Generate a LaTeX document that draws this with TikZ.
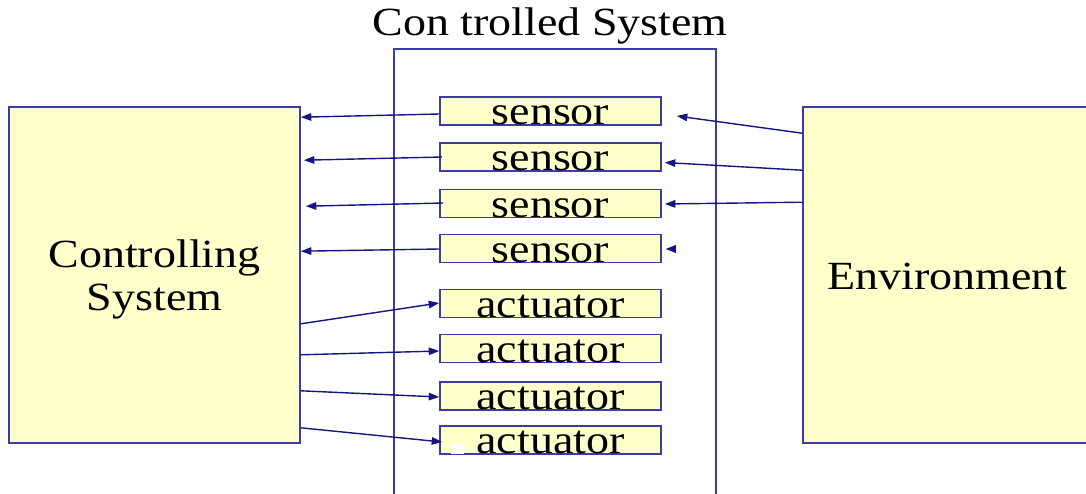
\documentclass[tikz,border=0pt]{standalone}
\usepackage{fontspec}
\setmainfont{Liberation Serif}[FakeStretch=1.15]
\usetikzlibrary{arrows.meta,calc}
\definecolor{boxline}{RGB}{60,60,165}
\definecolor{arrowblue}{RGB}{20,20,135}
\definecolor{boxfill}{RGB}{255,255,204}

\begin{document}
\begin{tikzpicture}[x=1pt,y=-1pt,
  big/.style={font=\fontsize{40}{43}\selectfont},
  panel/.style={draw=boxline, line width=1.6pt, fill=boxfill, inner sep=0pt},
  port/.style={panel, minimum width=221pt, minimum height=28pt},
  caption/.style={big, anchor=base, inner sep=0pt},
  link/.style={draw=arrowblue, line width=1.4pt, -{Triangle[length=10.5pt,width=7.5pt]}}]
\useasboundingbox (0,0) rectangle (1086,493);

% controlled system (open at the bottom edge of the page)
\node[draw=boxline, line width=1.6pt, minimum width=322pt, minimum height=460pt,
      inner sep=0pt, anchor=north] (sys) at (555,48) {};
\node[caption, font=\fontsize{40}{42}\selectfont] (title) at (550,35) {Con trolled System};

% controlling system and environment
\node[panel, minimum width=291pt, minimum height=336pt] (ctl) at (154.5,275) {};
\node[big, align=center, inner sep=0pt] (ctlt) at ($(ctl.center)+(0,4)$) {Controlling\\System};
\node[panel, minimum width=289pt, minimum height=336pt] (env) at (947.5,275) {};
\node[caption] (envt) at ($(env.center)+(0,14)$) {Environment};

% sensors and actuators
\foreach \i/\y in {1/111,2/157,3/203.5,4/248.5} {
  \node[port] (s\i) at (550.5,\y) {};
  \node[caption] (s\i t) at ($(s\i.south)+(0,-1)$) {sensor};
}
\foreach \i/\y in {1/303.5,2/348.5,3/396,4/440} {
  \node[port] (a\i) at (550.5,\y) {};
  \node[caption] (a\i t) at ($(a\i.south)+(0,-1)$) {actuator};
}
\fill[white] ($(a4.south west)+(12,-11)$) rectangle ($(a4.south west)+(25,-1)$);

% sensor readings to the controlling system
\draw[link] ($(s1.west)+(0,3)$)    -- ($(ctl.north east)+(0,11)$);
\draw[link] ($(s2.west)+(3,0)$)    -- ($(ctl.north east)+(3,54)$);
\draw[link] ($(s3.west)+(4,-0.5)$) -- ($(ctl.north east)+(5,100)$);
\draw[link] ($(s4.west)+(0,0.5)$)  -- ($(ctl.north east)+(0,145)$);

% environment to sensors
\draw[link] ($(env.north west)+(0,27)$) -- ($(s1.east)+(15,5)$);
\draw[link] ($(env.north west)+(0,64)$) -- ($(s2.east)+(3,5.5)$);
\draw[link] ($(env.north west)+(0,96)$) -- ($(s3.east)+(3,0.5)$);
\coordinate (e4tip) at ($(s4.east)+(4,0.5)$);
\fill[arrowblue] (e4tip) -- ++(10,-4) -- ++(0,8) -- cycle;

% commands to actuators
\draw[link] ($(ctl.south east)+(0,-120)$) -- ($(a1.west)+(0,-0.5)$);
\draw[link] ($(ctl.south east)+(0,-89)$)  -- ($(a2.west)+(0,2.5)$);
\draw[link] ($(ctl.south east)+(0,-53)$)  -- ($(a3.west)+(0,1)$);
\draw[link] ($(ctl.south east)+(0,-16)$)  -- ($(a4.west)+(3,2)$);
\end{tikzpicture}
\end{document}
